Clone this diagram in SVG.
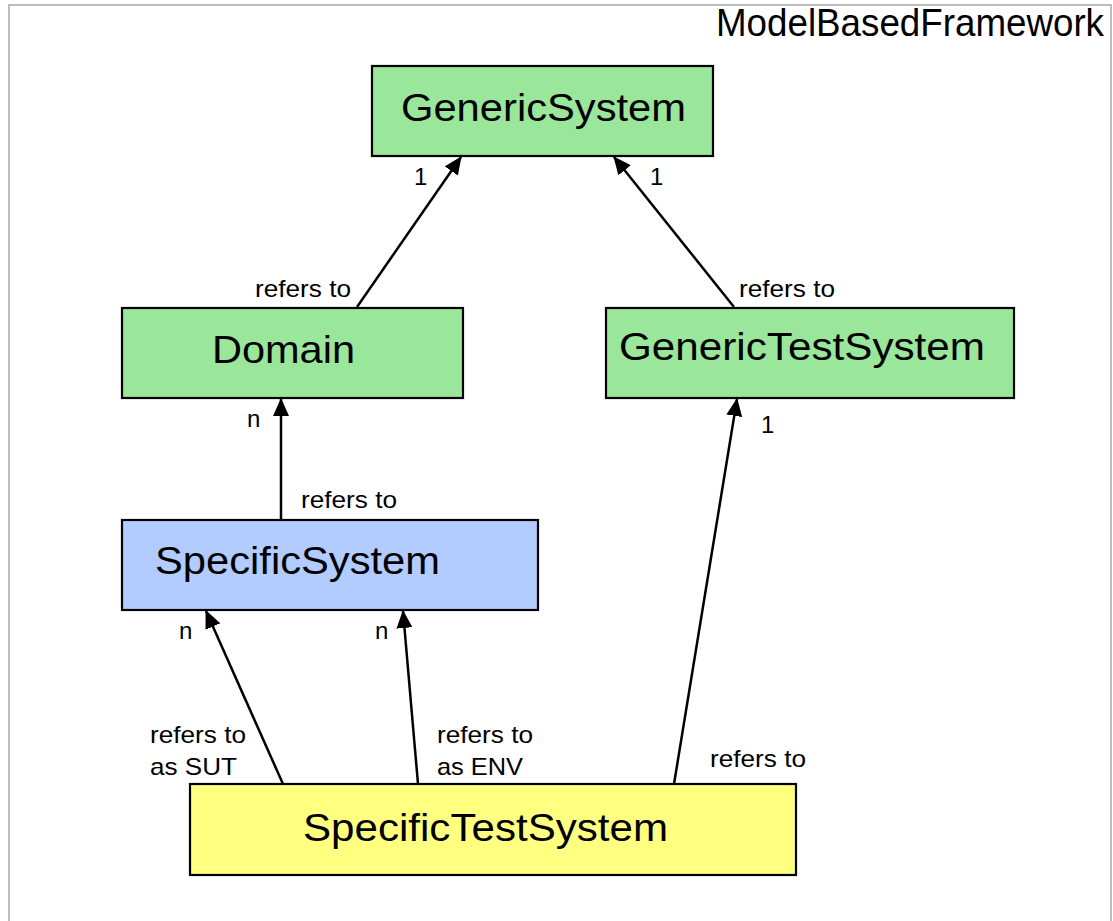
<svg xmlns="http://www.w3.org/2000/svg" width="1113" height="921" viewBox="0 0 1113 921">
  <style>
    .frame { fill: #ffffff; stroke: #bdbdbd; stroke-width: 2; }
    .node rect { stroke: #000000; stroke-width: 2.2; }
    .green { fill: #9ae69a; }
    .blue { fill: #b3ccff; }
    .yellow { fill: #ffff80; }
    .title { font-family: "Liberation Sans", Arial, sans-serif; font-size: 39px; fill: #000000; }
    .label { font-family: "Liberation Sans", Arial, sans-serif; font-size: 24px; fill: #000000; }
    .edge { stroke: #000000; stroke-width: 2.5; fill: none; marker-end: url(#arrow); }
  </style>
  <defs>
    <marker id="arrow" markerUnits="userSpaceOnUse" markerWidth="18" markerHeight="16" viewBox="0 0 18 16" refX="17" refY="8" orient="auto">
      <path d="M0,0 L18,8 L0,16 Z" fill="#000000"/>
    </marker>
  </defs>

  <!-- package frame -->
  <rect class="frame" x="9" y="5" width="1102" height="940"/>
  <text class="title" x="716" y="36" font-size="37" textLength="388" lengthAdjust="spacingAndGlyphs">ModelBasedFramework</text>

  <!-- nodes -->
  <g id="GenericSystem" class="node">
    <rect class="green" x="372" y="66" width="341" height="90"/>
    <text class="title" x="401" y="121" textLength="285" lengthAdjust="spacingAndGlyphs">GenericSystem</text>
  </g>
  <g id="Domain" class="node">
    <rect class="green" x="122" y="308" width="341" height="90"/>
    <text class="title" x="212" y="363" textLength="143" lengthAdjust="spacingAndGlyphs">Domain</text>
  </g>
  <g id="GenericTestSystem" class="node">
    <rect class="green" x="606" y="308" width="408" height="90"/>
    <text class="title" x="619" y="360" textLength="366" lengthAdjust="spacingAndGlyphs">GenericTestSystem</text>
  </g>
  <g id="SpecificSystem" class="node">
    <rect class="blue" x="122" y="520" width="416" height="90"/>
    <text class="title" x="155" y="574" textLength="285" lengthAdjust="spacingAndGlyphs">SpecificSystem</text>
  </g>
  <g id="SpecificTestSystem" class="node">
    <rect class="yellow" x="190" y="784" width="606" height="91"/>
    <text class="title" x="303" y="841" textLength="365" lengthAdjust="spacingAndGlyphs">SpecificTestSystem</text>
  </g>

  <!-- connectors -->
  <g id="connectors">
    <line class="edge" x1="357" y1="307" x2="461" y2="157"/>
    <line class="edge" x1="734" y1="307" x2="614" y2="157"/>
    <line class="edge" x1="281" y1="520" x2="281" y2="399"/>
    <line class="edge" x1="283" y1="784" x2="206" y2="611"/>
    <line class="edge" x1="418" y1="784" x2="403" y2="611"/>
    <line class="edge" x1="674" y1="784" x2="737" y2="399"/>
  </g>

  <!-- connector labels -->
  <g id="labels">
    <text class="label" x="414" y="185">1</text>
    <text class="label" x="650" y="185">1</text>
    <text class="label" x="255" y="297" textLength="96" lengthAdjust="spacingAndGlyphs">refers to</text>
    <text class="label" x="739" y="297" textLength="96" lengthAdjust="spacingAndGlyphs">refers to</text>
    <text class="label" x="247" y="427">n</text>
    <text class="label" x="761" y="433">1</text>
    <text class="label" x="301" y="508" textLength="96" lengthAdjust="spacingAndGlyphs">refers to</text>
    <text class="label" x="179" y="639">n</text>
    <text class="label" x="375" y="639">n</text>
    <text class="label" x="150" y="743" textLength="96" lengthAdjust="spacingAndGlyphs">refers to</text>
    <text class="label" x="150" y="775" textLength="87" lengthAdjust="spacingAndGlyphs">as SUT</text>
    <text class="label" x="437" y="743" textLength="96" lengthAdjust="spacingAndGlyphs">refers to</text>
    <text class="label" x="437" y="775" textLength="86" lengthAdjust="spacingAndGlyphs">as ENV</text>
    <text class="label" x="710" y="767" textLength="96" lengthAdjust="spacingAndGlyphs">refers to</text>
  </g>
</svg>
